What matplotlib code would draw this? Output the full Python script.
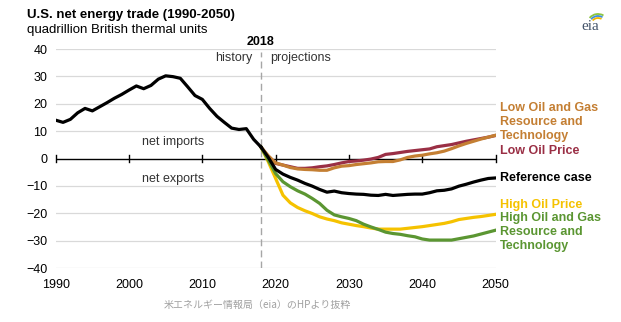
import matplotlib
matplotlib.use("Agg")
import matplotlib.pyplot as plt
from matplotlib.patches import Arc

plt.rcParams['font.family'] = ['Liberation Sans', 'DejaVu Sans']

# history 1990-2018
hist_years = list(range(1990, 2019))
hist_vals = [14.0, 13.2, 14.3, 16.7, 18.3, 17.4, 18.9, 20.4, 22.0, 23.4,
             25.0, 26.5, 25.5, 26.7, 29.0, 30.2, 29.9, 29.3, 26.2, 23.0,
             21.6, 18.3, 15.4, 13.2, 11.1, 10.6, 10.9, 7.0, 4.2]

# projections 2018-2050
proj_years = list(range(2018, 2051))
reference = [4.2, 0.4, -4.0, -5.7, -6.9, -7.9, -9.1, -10.1, -11.3, -12.3,
             -11.9, -12.5, -12.8, -13.0, -13.1, -13.4, -13.5, -13.1, -13.5, -13.3,
             -13.1, -13.0, -13.0, -12.5, -11.8, -11.6, -11.1, -10.1, -9.4, -8.6,
             -7.9, -7.3, -7.1]
high_oil_price = [4.2, -1.2, -7.3, -13.4, -16.2, -17.9, -19.1, -20.1, -21.3, -22.1,
                  -22.7, -23.5, -24.0, -24.5, -24.9, -25.4, -25.8, -25.8, -25.8, -25.8,
                  -25.5, -25.2, -24.9, -24.5, -24.1, -23.7, -23.1, -22.3, -21.9, -21.5,
                  -21.2, -20.8, -20.4]
high_resource = [4.2, -0.6, -5.5, -8.5, -10.3, -11.8, -13.0, -14.6, -16.4, -18.9,
                 -20.6, -21.3, -21.9, -22.7, -24.0, -25.0, -25.9, -26.9, -27.4, -27.7,
                 -28.2, -28.6, -29.4, -29.8, -29.8, -29.8, -29.8, -29.3, -28.8, -28.3,
                 -27.6, -26.9, -26.2]
low_oil_price = [4.2, 0.6, -1.8, -2.4, -3.0, -3.6, -3.6, -3.4, -3.0, -2.7,
                 -2.2, -1.6, -1.1, -0.9, -0.6, -0.2, 0.4, 1.5, 1.8, 2.2,
                 2.6, 2.9, 3.2, 3.5, 4.3, 4.7, 5.1, 5.7, 6.3, 6.8,
                 7.3, 7.8, 8.4]
low_resource = [4.2, 1.0, -1.6, -2.4, -3.3, -3.8, -4.0, -4.1, -4.3, -4.3,
                -3.4, -2.8, -2.6, -2.2, -1.9, -1.6, -1.2, -1.1, -1.1, -0.5,
                0.4, 0.9, 1.2, 1.7, 2.1, 2.7, 3.6, 4.6, 5.5, 6.3,
                7.1, 7.8, 8.5]

yticks = [40, 30, 20, 10, 0, -10, -20, -30, -40]
xticks = [1990, 2000, 2010, 2020, 2030, 2040, 2050]

c_black = '#000000'
c_yellow = '#F5C200'
c_green = '#5B9632'
c_red = '#9A2F45'
c_orange = '#C47F33'

fig = plt.figure(figsize=(6.21, 3.22), dpi=100)
ax = fig.add_axes([0.0897, 0.1677, 0.7083, 0.6801])
ax.set_xlim(1990, 2050)
ax.set_ylim(-40, 40)

for y in yticks:
    if y != 0:
        ax.axhline(y, color='#D9D9D9', lw=0.9, zorder=1)
ax.axhline(0, color='black', lw=1.0, zorder=2)
for x in xticks:
    ax.plot([x, x], [-1.3, 1.3], color='black', lw=1.0, zorder=2, clip_on=False)

ax.axvline(2018, ymax=0.985, color='#A6A6A6', lw=1.0, ls=(0, (5, 3)), zorder=2)

lw = 2.3
ax.plot(proj_years, low_oil_price, color=c_red, lw=lw, zorder=3)
ax.plot(proj_years, low_resource, color=c_orange, lw=lw, zorder=4)
ax.plot(proj_years, high_oil_price, color=c_yellow, lw=lw, zorder=3)
ax.plot(proj_years, high_resource, color=c_green, lw=lw, zorder=4)
ax.plot(proj_years, reference, color=c_black, lw=lw, zorder=5)
ax.plot(hist_years, hist_vals, color=c_black, lw=lw, zorder=5)

for s in ax.spines.values():
    s.set_visible(False)
ax.set_yticks(yticks)
ax.set_xticks(xticks)
ax.tick_params(length=0, labelsize=9)
ax.tick_params(axis='x', pad=8)
ax.tick_params(axis='y', pad=6)

ax.text(2018, 42.6, '2018', ha='center', va='center', fontsize=9, fontweight='bold')
ax.text(2016.8, 36.7, 'history', ha='right', va='center', fontsize=9, color='#333333')
ax.text(2019.2, 36.7, 'projections', ha='left', va='center', fontsize=9, color='#333333')
ax.text(2006, 6, 'net imports', ha='center', va='center', fontsize=9, color='#333333')
ax.text(2006, -7.5, 'net exports', ha='center', va='center', fontsize=9, color='#333333')

fig.text(0.043, 0.945, 'U.S. net energy trade (1990-2050)', fontsize=9.5,
         fontweight='bold', ha='left', va='baseline')
fig.text(0.043, 0.898, 'quadrillion British thermal units', fontsize=9.5,
         ha='left', va='baseline')

labels = [
    ('Low Oil and Gas\nResource and\nTechnology', 122, c_orange),
    ('Low Oil Price', 151, c_red),
    ('Reference case', 178, c_black),
    ('High Oil Price', 205, c_yellow),
    ('High Oil and Gas\nResource and\nTechnology', 232, c_green),
]
for txt, ypx, col in labels:
    fig.text(500 / 621, 1 - ypx / 322, txt, fontsize=9, fontweight='bold',
             color=col, ha='left', va='center', linespacing=1.25)

fig.text(257 / 621, 1 - 305 / 322, '米エネルギー情報局（eia）のHPより抜粋',
         fontsize=7.2, color='#A0A0A0', ha='center', va='center',
         family=['Noto Sans CJK JP', 'DejaVu Sans'])

# eia logo
lax = fig.add_axes([565 / 621, 1 - 40 / 322, 50 / 621, 36 / 322])
lax.set_xlim(0, 50)
lax.set_ylim(0, 36)
lax.axis('off')
lax.text(25, 13, 'eia', fontsize=11, family='Liberation Serif', color='#44546A',
         ha='center', va='center')
for r, col in [(11, '#8DC63F'), (9, '#3E8EDE'), (7, '#F2B705')]:
    lax.add_patch(Arc((33, 15), 2 * r, 2 * r, theta1=60, theta2=140, color=col, lw=1.3))

fig.savefig('out.png', dpi=100)
